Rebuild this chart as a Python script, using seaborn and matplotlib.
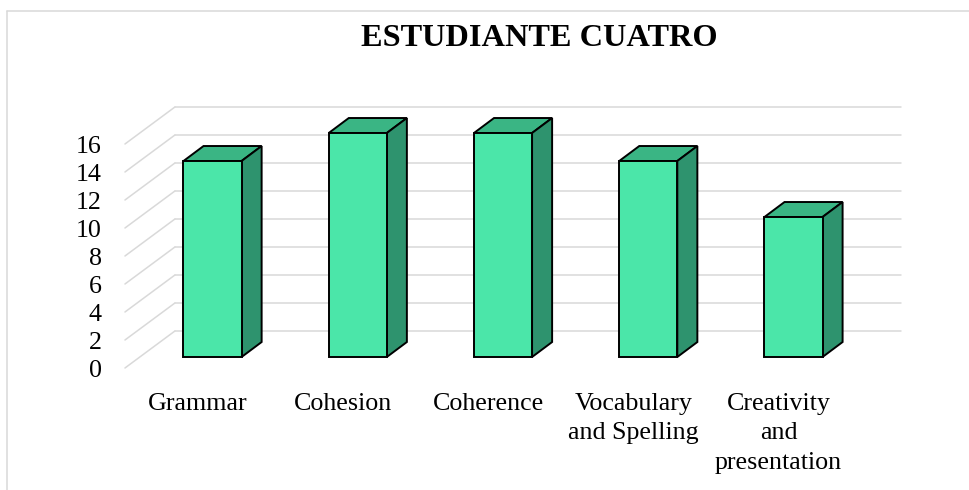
import numpy as np
import matplotlib.pyplot as plt
from matplotlib.patches import Polygon
from matplotlib.lines import Line2D
import seaborn as sns

categories = ['Grammar', 'Cohesion', 'Coherence', 'Vocabulary\nand Spelling',
              'Creativity\nand\npresentation']
scores = [14, 16, 16, 14, 10]
yticks = np.arange(0, 17, 2)

front_col = '#4be6a9'
top_col = '#3ab584'
side_col = '#2e936e'
grid_col = '#d9d9d9'

# depth offsets (category units, value units), relative to the bar front plane
bar_dx, bar_dy = 0.138, 1.07
back_dx, back_dy = 0.241, 1.857
front_dx, front_dy = -0.103, -0.786

sns.set_theme(style='white')
plt.rcParams['font.family'] = ['Liberation Serif', 'DejaVu Serif']
plt.rcParams['text.color'] = 'black'

fig = plt.figure(figsize=(9.69, 4.9), dpi=100)
ax = fig.add_axes([110 / 969, 112 / 490, 799.7 / 969, 280 / 490])

# walls / gridlines
for v in yticks:
    ax.plot([front_dx - 0.5, back_dx - 0.5], [v + front_dy, v + back_dy],
            color=grid_col, lw=1.1, zorder=0, clip_on=False)
    ax.plot([back_dx - 0.5, back_dx + 4.5], [v + back_dy, v + back_dy],
            color=grid_col, lw=1.1, zorder=0, clip_on=False)

sns.barplot(x=categories, y=scores, width=0.4, color=front_col, saturation=1,
            edgecolor='black', linewidth=1.4, ax=ax, zorder=3)

for p in list(ax.patches):
    x0, w, h = p.get_x(), p.get_width(), p.get_height()
    top = Polygon([(x0, h), (x0 + bar_dx, h + bar_dy), (x0 + w + bar_dx, h + bar_dy), (x0 + w, h)],
                  closed=True, fc=top_col, ec='black', lw=1.4, zorder=2, clip_on=False)
    side = Polygon([(x0 + w, 0), (x0 + w + bar_dx, bar_dy), (x0 + w + bar_dx, h + bar_dy), (x0 + w, h)],
                   closed=True, fc=side_col, ec='black', lw=1.4, zorder=2, clip_on=False)
    ax.add_patch(top)
    ax.add_patch(side)
    p.set_clip_on(False)

ax.set_xlim(-0.706, 4.8)
ax.set_ylim(-1.5, 18.5)
ax.set_yticks(yticks + front_dy, [str(v) for v in yticks])
ax.set_xticks(np.arange(len(categories)) + front_dx, categories, linespacing=1.45)
ax.tick_params(axis='y', length=0, pad=5.8, labelsize=18.7, colors='black')
ax.tick_params(axis='x', length=0, pad=10.5, labelsize=18.7, colors='black')
ax.set_xlabel('')
ax.set_ylabel('')
for s in ax.spines.values():
    s.set_visible(False)

fig.text(539 / 969, 1 - 39 / 490, 'ESTUDIANTE CUATRO', ha='center', va='center',
         fontsize=23.3, fontweight='bold', color='black')

# chart border (left and top edges visible)
fig.add_artist(Line2D([7 / 969, 7 / 969], [0, 1 - 11 / 490], color=grid_col, lw=1.1))
fig.add_artist(Line2D([7 / 969, 1], [1 - 11 / 490, 1 - 11 / 490], color=grid_col, lw=1.1))

fig.savefig('out.png', dpi=100)
